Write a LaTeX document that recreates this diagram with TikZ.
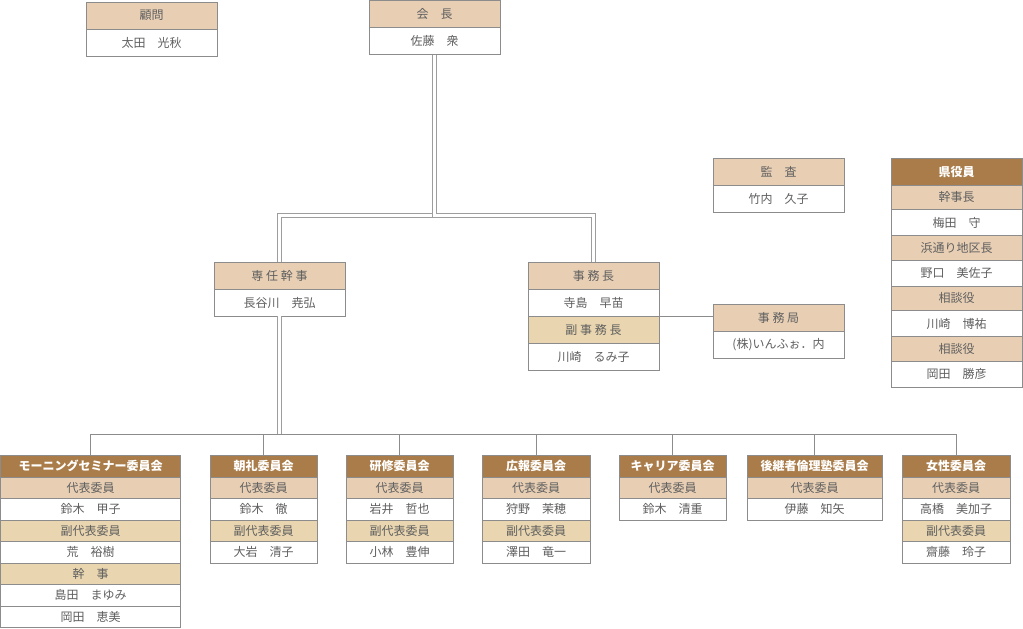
\documentclass[tikz,border=0pt]{standalone}
\usepackage{fontspec}
\setmainfont{Noto Sans CJK JP}
\usetikzlibrary{positioning}
\definecolor{brownhd}{RGB}{169,124,73}
\definecolor{peach}{RGB}{232,207,180}
\definecolor{sand}{RGB}{233,214,176}
\definecolor{rule}{RGB}{140,140,140}
\definecolor{ink}{RGB}{95,95,95}

\begin{document}
\begin{tikzpicture}[x = 1pt, y = -1pt, node distance = 0pt,
	every node/.style = {draw = rule, line width = 0.8pt, inner sep = 0pt, outer sep = 0pt, text = ink, font = \fontsize{12}{14}\selectfont},
	role/.style = {fill = peach},
	role2/.style = {fill = sand},
	person/.style = {fill = white},
	title/.style = {fill = brownhd, text = white, font = \fontsize{12}{14}\selectfont\bfseries},
	big/.style = {minimum width = 131pt, minimum height = 27pt},
	ken/.style = {minimum width = 131pt, minimum height = #1},
	cw/.style = {minimum width = #1, minimum height = 21.5pt},
	dbl/.style = {draw = rule!85, line width = 0.9pt, double = white, double distance = 2.4pt},
	link/.style = {draw = rule, line width = 0.8pt}]
	\useasboundingbox (0, 0) rectangle (1023, 629);
	% top
	\node[role, big, anchor = north west] (ko0) at (86, 2) {顧問};
	\node[person, big] (ko1) [below = of ko0] {太田　光秋};
	\node[role, big, anchor = north west] (kc0) at (369, 0.5) {会　長};
	\node[person, big] (kc1) [below = of kc0] {佐藤　衆};
	% middle
	\node[role, big, anchor = north west] (sn0) at (214, 262) {専 任 幹 事};
	\node[person, big] (sn1) [below = of sn0] {長谷川　尭弘};
	\node[role, big, anchor = north west] (jm0) at (528, 262) {事 務 長};
	\node[person, big] (jm1) [below = of jm0] {寺島　早苗};
	\node[role2, big] (jm2) [below = of jm1] {副 事 務 長};
	\node[person, big] (jm3) [below = of jm2] {川崎　るみ子};
	\node[role, big, anchor = north west] (ks0) at (713, 158) {監　査};
	\node[person, big] (ks1) [below = of ks0] {竹内　久子};
	\node[role, big, anchor = north west] (jk0) at (713, 304) {事 務 局};
	\node[person, big] (jk1) [below = of jk0] {(株)いんふぉ．内};
	% prefecture
	\node[title, ken = 27pt, anchor = north west] (ky0) at (891, 158) {県役員};
	\node[role, ken = 24.5pt] (ky1) [below = of ky0] {幹事長};
	\node[person, ken = 26pt] (ky2) [below = of ky1] {梅田　守};
	\node[role, ken = 24.5pt] (ky3) [below = of ky2] {浜通り地区長};
	\node[person, ken = 26pt] (ky4) [below = of ky3] {野口　美佐子};
	\node[role, ken = 24.5pt] (ky5) [below = of ky4] {相談役};
	\node[person, ken = 26pt] (ky6) [below = of ky5] {川崎　博祐};
	\node[role, ken = 24.5pt] (ky7) [below = of ky6] {相談役};
	\node[person, ken = 26pt] (ky8) [below = of ky7] {岡田　勝彦};
	% committees
	\node[title, cw = 180pt, minimum height = 22pt, anchor = north west] (ms0) at (0.5, 455) {モーニングセミナー委員会};
	\node[role, cw = 180pt] (ms1) [below = of ms0] {代表委員};
	\node[person, cw = 180pt] (ms2) [below = of ms1] {鈴木　甲子};
	\node[role2, cw = 180pt] (ms3) [below = of ms2] {副代表委員};
	\node[person, cw = 180pt] (ms4) [below = of ms3] {荒　裕樹};
	\node[role2, cw = 180pt] (ms5) [below = of ms4] {幹　事};
	\node[person, cw = 180pt] (ms6) [below = of ms5] {島田　まゆみ};
	\node[person, cw = 180pt] (ms7) [below = of ms6] {岡田　恵美};
	\node[title, cw = 107pt, minimum height = 22pt, anchor = north west] (cr0) at (210, 455) {朝礼委員会};
	\node[role, cw = 107pt] (cr1) [below = of cr0] {代表委員};
	\node[person, cw = 107pt] (cr2) [below = of cr1] {鈴木　徹};
	\node[role2, cw = 107pt] (cr3) [below = of cr2] {副代表委員};
	\node[person, cw = 107pt] (cr4) [below = of cr3] {大岩　清子};
	\node[title, cw = 107pt, minimum height = 22pt, anchor = north west] (kn0) at (346, 455) {研修委員会};
	\node[role, cw = 107pt] (kn1) [below = of kn0] {代表委員};
	\node[person, cw = 107pt] (kn2) [below = of kn1] {岩井　哲也};
	\node[role2, cw = 107pt] (kn3) [below = of kn2] {副代表委員};
	\node[person, cw = 107pt] (kn4) [below = of kn3] {小林　豊伸};
	\node[title, cw = 108pt, minimum height = 22pt, anchor = north west] (kh0) at (482, 455) {広報委員会};
	\node[role, cw = 108pt] (kh1) [below = of kh0] {代表委員};
	\node[person, cw = 108pt] (kh2) [below = of kh1] {狩野　茉穂};
	\node[role2, cw = 108pt] (kh3) [below = of kh2] {副代表委員};
	\node[person, cw = 108pt] (kh4) [below = of kh3] {澤田　竜一};
	\node[title, cw = 107pt, minimum height = 22pt, anchor = north west] (ca0) at (619, 455) {キャリア委員会};
	\node[role, cw = 107pt] (ca1) [below = of ca0] {代表委員};
	\node[person, cw = 107pt] (ca2) [below = of ca1] {鈴木　清重};
	\node[title, cw = 135pt, minimum height = 22pt, anchor = north west] (kk0) at (747, 455) {後継者倫理塾委員会};
	\node[role, cw = 135pt] (kk1) [below = of kk0] {代表委員};
	\node[person, cw = 135pt] (kk2) [below = of kk1] {伊藤　知矢};
	\node[title, cw = 108pt, minimum height = 22pt, anchor = north west] (js0) at (902, 455) {女性委員会};
	\node[role, cw = 108pt] (js1) [below = of js0] {代表委員};
	\node[person, cw = 108pt] (js2) [below = of js1] {高橋　美加子};
	\node[role2, cw = 108pt] (js3) [below = of js2] {副代表委員};
	\node[person, cw = 108pt] (js4) [below = of js3] {齋藤　玲子};
	% lines
	\coordinate (lv) at (0, 215.5);
	\coordinate (lb) at (0, 434);
	\coordinate (split) at (kc1.south |- lv);
	\coordinate (bus) at (sn1.south |- lb);
	\draw[dbl] (kc1.south) -- (split) -| (sn0.north);
	\draw[dbl] (kc1.south) -- (split) -| (jm0.north);
	\draw[dbl] (sn1.south) -- (bus);
	\draw[link] (jm1.south east) -- (jk0.west |- jm1.south east);
	\draw[link] (ms0.north |- bus) -- (js0.north |- bus);
	\foreach \c in {ms0, cr0, kn0, kh0, ca0, kk0, js0}
		\draw[link] (\c.north |- bus) -- (\c.north);
\end{tikzpicture}
\end{document}
